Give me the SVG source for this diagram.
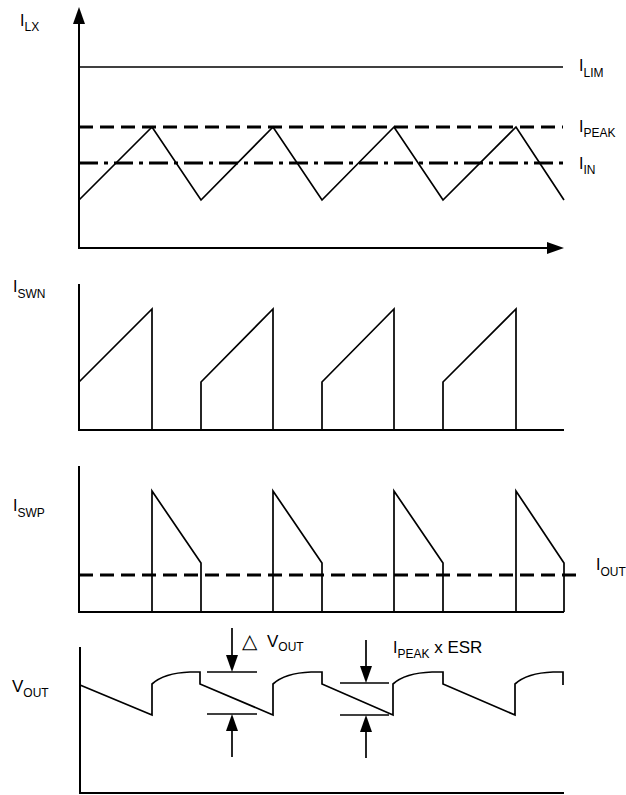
<svg xmlns="http://www.w3.org/2000/svg" width="626" height="795" viewBox="0 0 626 795">
<style>
.ax{stroke:#000;stroke-width:2;fill:none}
.w{stroke:#000;stroke-width:1.7;fill:none;stroke-linejoin:miter}
.dash{stroke:#000;stroke-width:3;fill:none;stroke-dasharray:14 7}
.dd{stroke:#000;stroke-width:3;fill:none;stroke-dasharray:19 6 4 6}
.ah{fill:#000;stroke:none}
text{font-family:"Liberation Sans",Arial,sans-serif;font-size:16px;fill:#000}
.s{font-size:12px}
.big{font-size:17px}
</style>
<rect width="626" height="795" fill="#fff"/>
<g id="panel-ilx">
<line class="ax" x1="79" y1="20" x2="79" y2="249"/>
<polygon class="ah" points="79,7 73,24 85,24"/>
<line class="ax" x1="78" y1="248" x2="550" y2="248"/>
<polygon class="ah" points="564,248 547,242 547,254"/>
<line class="w" x1="79" y1="67" x2="563" y2="67"/>
<line class="dash" x1="79" y1="127" x2="563" y2="127"/>
<line class="dd" x1="79" y1="163" x2="563" y2="163"/>
<polyline class="w" points="79,200 152,127 201,200 273,127 322,200 394,127 443,200 516,127 564,200"/>
<text x="20" y="26">I<tspan class="s" dy="5">LX</tspan></text>
<text x="579" y="71">I<tspan class="s" dy="6">LIM</tspan></text>
<text x="579" y="132">I<tspan class="s" dy="5">PEAK</tspan></text>
<text x="579" y="169">I<tspan class="s" dy="5">IN</tspan></text>
</g>
<g id="panel-iswn">
<polyline class="ax" points="79,284 79,430 564,430"/>
<polyline class="w" points="79,382 152,309 152,430"/>
<polyline class="w" points="201,430 201,382 273,309 273,430"/>
<polyline class="w" points="322,430 322,382 394,309 394,430"/>
<polyline class="w" points="443,430 443,382 516,309 516,430"/>
<text x="13" y="292">I<tspan class="s" dy="6">SWN</tspan></text>
</g>
<g id="panel-iswp">
<polyline class="ax" points="79,466 79,612 564,612"/>
<line class="dash" x1="79" y1="575" x2="577" y2="575"/>
<polyline class="w" points="152,612 152,491 201,563 201,612"/>
<polyline class="w" points="273,612 273,491 322,563 322,612"/>
<polyline class="w" points="394,612 394,491 443,563 443,612"/>
<polyline class="w" points="516,612 516,491 564,563 564,612"/>
<text x="13" y="511">I<tspan class="s" dy="6">SWP</tspan></text>
<text x="596" y="570">I<tspan class="s" dy="6">OUT</tspan></text>
</g>
<g id="panel-vout">
<polyline class="ax" points="80,647 80,793 564,793"/>
<path class="w" d="M80,685 L152,715 L152,684 Q164,673 190,672 L200,672 L200,684 L273,715 L273,684 Q285,673 311,672 L322,672 L322,684 L393,715 L393,684 Q405,673 432,672 L443,672 L443,684 L515,715 L515,684 Q527,673 553,672 L563,672 L563,685"/>
<text class="big" x="12" y="692">V<tspan class="s" dy="5">OUT</tspan></text>
</g>
<g id="connectors">
<line class="w" x1="232" y1="628" x2="232" y2="660"/>
<polygon class="ah" points="232,672 226,655 238,655"/>
<line class="w" x1="207" y1="672" x2="257" y2="672"/>
<line class="w" x1="207" y1="714" x2="257" y2="714"/>
<polygon class="ah" points="232,714 226,731 238,731"/>
<line class="w" x1="232" y1="728" x2="232" y2="757"/>
<line class="w" x1="366" y1="640" x2="366" y2="672"/>
<polygon class="ah" points="366,683 360,666 372,666"/>
<line class="w" x1="340" y1="683" x2="389" y2="683"/>
<line class="w" x1="340" y1="715" x2="389" y2="715"/>
<polygon class="ah" points="366,715 360,732 372,732"/>
<line class="w" x1="366" y1="728" x2="366" y2="758"/>
</g>
<g id="labels">
<text x="242" y="648" style="font-family:'DejaVu Sans',sans-serif;font-size:20px">△</text>
<text class="big" x="267" y="647">V<tspan class="s" dy="4">OUT</tspan></text>
<text x="393" y="653">I<tspan class="s" dy="5">PEAK</tspan><tspan class="big" dy="-5"> x ESR</tspan></text>
</g>
</svg>
